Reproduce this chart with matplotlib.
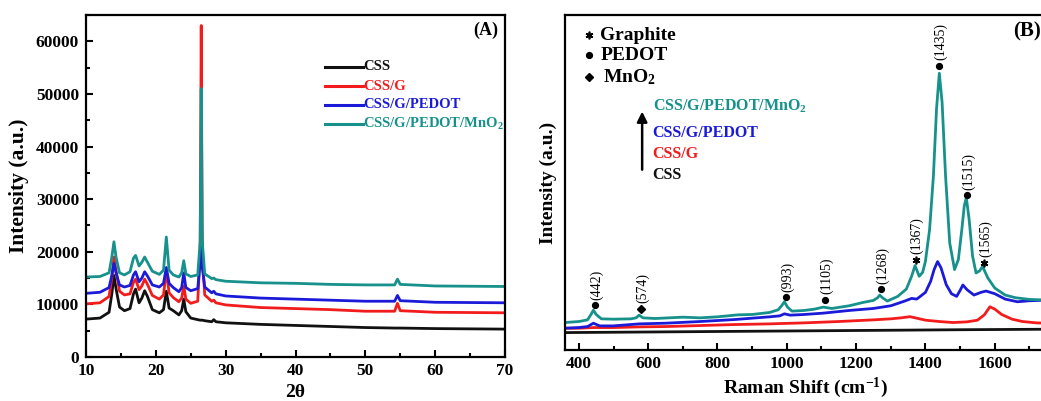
import numpy as np
import matplotlib
matplotlib.use("Agg")
import matplotlib.pyplot as plt
from matplotlib.ticker import MultipleLocator

plt.rcParams['font.family'] = ['Liberation Serif', 'DejaVu Serif']
plt.rcParams['font.weight'] = 'bold'
plt.rcParams['mathtext.fontset'] = 'custom'
plt.rcParams['mathtext.default'] = 'bf'
plt.rcParams['mathtext.bf'] = 'Liberation Serif:bold'
plt.rcParams['mathtext.rm'] = 'Liberation Serif:bold'

# ---------------- data: XRD (panel A) ----------------
xrd_2theta = [10, 12, 13.3, 13.7, 14.0, 14.3, 14.8, 15.5, 16.3, 16.8, 17.1, 17.6, 18.0, 18.4,
              18.8, 19.5, 20.5, 21.1, 21.5, 21.9, 22.5, 23.3, 23.7, 24.0, 24.3, 25.0, 26.0,
              26.35, 26.5, 26.65, 27.0, 28.0, 28.3, 28.6, 30, 35, 40, 45, 50, 54.2, 54.6, 55.0,
              60, 70]
xrd_css = [7200, 7400, 8500, 12000, 15500, 13000, 9500, 8800, 9200, 12000, 12900, 10300, 11200,
           12600, 11500, 9000, 8400, 9000, 12500, 9300, 8800, 8000, 8800, 11000, 8600, 7400, 7100,
           7000, 7000, 7000, 6900, 6700, 7100, 6700, 6500, 6200, 6000, 5800, 5600, 5500, 5500,
           5500, 5400, 5300]
xrd_css_g = [10100, 10300, 11500, 15000, 19000, 16500, 12500, 11800, 12000, 14200, 14800, 12800,
             13500, 14800, 13800, 11700, 11000, 11800, 16500, 12200, 11300, 10500, 11200, 13500,
             11000, 10200, 10600, 20000, 63000, 20000, 11800, 10600, 10800, 10300, 9900, 9400,
             9200, 9000, 8700, 8700, 10200, 8800, 8500, 8400]
xrd_css_g_pedot = [12100, 12300, 13200, 15500, 17800, 16000, 13700, 13300, 13600, 15600, 16200,
                   14300, 15000, 16200, 15400, 13700, 13300, 14000, 17000, 14000, 13200, 12400,
                   13200, 16000, 13200, 12600, 13000, 18000, 30000, 17000, 13300, 12200, 12500,
                   12000, 11600, 11200, 11000, 10800, 10600, 10600, 11700, 10700, 10400, 10300]
xrd_css_g_pedot_mno2 = [15200, 15300, 16000, 19000, 21900, 19000, 16000, 15600, 16200, 18800,
                        19300, 17300, 18000, 19000, 18000, 16300, 15700, 16500, 22800, 16500,
                        15600, 15200, 16000, 18300, 15800, 15300, 15600, 22000, 51000, 22000,
                        15800, 14900, 15000, 14700, 14400, 14100, 14000, 13800, 13700, 13700,
                        14800, 13800, 13500, 13400]

# ---------------- data: Raman (panel B) ----------------
raman_x_css = [360, 500, 700, 900, 1100, 1300, 1500, 1750]
raman_css = [5.2, 5.3, 5.45, 5.6, 5.75, 5.9, 6.05, 6.2]

raman_x_css_g = [360, 400, 442, 500, 574, 650, 750, 850, 950, 1050, 1150, 1250, 1300, 1330,
                 1355, 1375, 1400, 1440, 1480, 1520, 1550, 1570, 1586, 1600, 1620, 1650, 1680,
                 1720, 1750]
raman_css_g = [6.5, 6.5, 6.7, 6.7, 6.9, 7.0, 7.3, 7.6, 7.8, 8.1, 8.5, 9.0, 9.3, 9.6, 9.95, 9.5,
               8.9, 8.5, 8.2, 8.4, 8.9, 10.5, 12.9, 12.2, 10.6, 9.2, 8.5, 8.1, 8.0]

raman_x_css_g_pedot = [360, 400, 425, 442, 460, 500, 574, 650, 750, 850, 950, 980, 993, 1010,
                       1050, 1105, 1180, 1250, 1300, 1340, 1360, 1375, 1400, 1415, 1425, 1435,
                       1445, 1460, 1475, 1490, 1500, 1508, 1520, 1540, 1560, 1575, 1600, 1630,
                       1665, 1700, 1750]
raman_css_g_pedot = [6.5, 6.7, 7.0, 8.0, 7.2, 7.2, 7.8, 8.0, 8.5, 9.1, 9.9, 10.2, 10.8, 10.4,
                     10.6, 11.0, 11.8, 12.4, 13.2, 14.6, 15.4, 15.2, 17.2, 20.5, 24.0, 26.4,
                     24.5, 19.5, 16.8, 16.0, 17.8, 19.4, 18.0, 16.4, 17.2, 17.6, 16.8, 15.2,
                     14.4, 14.7, 14.9]

raman_x_css_g_pedot_mno2 = [360, 400, 425, 435, 442, 450, 465, 500, 550, 565, 574, 585, 620,
                            700, 750, 800, 860, 900, 950, 975, 985, 993, 1002, 1015, 1050, 1080,
                            1105, 1130, 1180, 1220, 1250, 1262, 1268, 1276, 1290, 1320, 1345,
                            1360, 1370, 1382, 1392, 1400, 1412, 1423, 1432, 1440, 1448, 1458,
                            1470, 1484, 1495, 1505, 1512, 1518, 1526, 1536, 1546, 1556, 1565,
                            1580, 1600, 1630, 1660, 1700, 1750]
raman_css_g_pedot_mno2 = [8.2, 8.5, 9.0, 10.6, 11.9, 10.6, 9.3, 9.2, 9.3, 9.6, 10.4, 9.6, 9.4,
                          9.8, 9.6, 9.9, 10.5, 10.6, 11.2, 12.0, 13.2, 14.4, 12.8, 11.6, 11.8,
                          12.2, 12.8, 12.4, 13.2, 14.2, 14.8, 15.6, 16.4, 15.6, 14.6, 16.0, 18.2,
                          22.0, 25.2, 22.0, 23.2, 26.5, 36.0, 52.0, 72.0, 82.6, 74.0, 52.0, 32.0,
                          24.0, 27.0, 36.0, 43.0, 45.5, 39.0, 28.0, 23.0, 23.6, 24.9, 21.5, 18.5,
                          16.4, 15.6, 15.1, 14.9]

peak_positions = [442, 574, 993, 1105, 1268, 1367, 1435, 1515, 1565]
peak_labels = ['(442)', '(574)', '(993)', '(1105)', '(1268)', '(1367)', '(1435)', '(1515)', '(1565)']
peak_kinds = ['PEDOT', 'MnO2', 'PEDOT', 'PEDOT', 'PEDOT', 'Graphite', 'PEDOT', 'PEDOT', 'Graphite']

series_names = ['CSS', 'CSS/G', 'CSS/G/PEDOT', 'CSS/G/PEDOT/MnO$_2$']
colors = ['#111111', '#f21c1c', '#1a1ad8', '#16918b']

# ---------------- figure ----------------
W, H = 1041, 401
fig = plt.figure(figsize=(W / 100, H / 100), dpi=100)

def box(l, t, r, b):
    return [l / W, 1 - b / H, (r - l) / W, (b - t) / H]

# ---- panel A ----
axA = fig.add_axes(box(86, 15, 505, 357))
xrd_series = [xrd_css, xrd_css_g, xrd_css_g_pedot, xrd_css_g_pedot_mno2]
for ys, c in zip(xrd_series, colors):
    axA.plot(xrd_2theta, ys, color=c, lw=2.0, solid_joinstyle='round')
axA.set_xlim(10, 70)
axA.set_ylim(0, 65000)
axA.xaxis.set_major_locator(MultipleLocator(10))
axA.xaxis.set_minor_locator(MultipleLocator(5))
axA.yaxis.set_major_locator(MultipleLocator(10000))
axA.yaxis.set_minor_locator(MultipleLocator(5000))
axA.tick_params(which='both', direction='in', top=False, right=False, width=1.5)
axA.tick_params(which='major', length=5, labelsize=12.5, pad=4)
axA.tick_params(axis='y', which='major', pad=5)
axA.tick_params(which='minor', length=3)
for s in axA.spines.values():
    s.set_linewidth(1.6)
axA.set_xlabel('2θ', fontsize=14, fontweight='bold', labelpad=4)
axA.set_ylabel('Intensity (a.u.)', fontsize=15.5, fontweight='bold', labelpad=5)
axA.text(0.985, 0.955, '(A)', transform=axA.transAxes, ha='right', va='center',
         fontsize=13, fontweight='bold')
leg_rows = [0.848, 0.792, 0.737, 0.681]
for name, c, yy in zip(series_names, colors, leg_rows):
    axA.plot([0.570, 0.661], [yy, yy], transform=axA.transAxes, color=c, lw=2.2)
    axA.text(0.662, yy, name, transform=axA.transAxes, ha='left', va='center',
             color=c, fontsize=10.5, fontweight='bold')

# ---- panel B ----
x_left_px = 565
x400 = 578.3
px_per_unit = 69.4 / 200
right_px = x400 + (1750 - 400) * px_per_unit
axB = fig.add_axes(box(x_left_px, 15, right_px, 350))
raman_series = [(raman_x_css, raman_css), (raman_x_css_g, raman_css_g),
                (raman_x_css_g_pedot, raman_css_g_pedot),
                (raman_x_css_g_pedot_mno2, raman_css_g_pedot_mno2)]
for (xs, ys), c in zip(raman_series, colors):
    axB.plot(xs, ys, color=c, lw=2.0, solid_joinstyle='round')
axB.set_xlim(360, 1750)
axB.set_ylim(0, 100)
axB.set_yticks([])
axB.xaxis.set_major_locator(MultipleLocator(200))
axB.xaxis.set_minor_locator(MultipleLocator(100))
axB.tick_params(which='both', direction='in', top=False, right=False, width=1.5)
axB.tick_params(which='major', length=5, labelsize=12.5, pad=4)
axB.tick_params(which='minor', length=3)
for s in axB.spines.values():
    s.set_linewidth(1.6)
axB.set_xlabel('Raman Shift (cm$^{-1}$)', fontsize=14, fontweight='bold', labelpad=3)
axB.set_ylabel('Intensity (a.u.)', fontsize=14, fontweight='bold', labelpad=6)

marker_style = {'PEDOT': dict(marker='o', ms=4.2),
                'MnO2': dict(marker='D', ms=4.2),
                'Graphite': dict(marker=(6, 2, 0), ms=5.5, mew=1.2)}
for pos, lab, kind in zip(peak_positions, peak_labels, peak_kinds):
    xm = pos + 5
    ym = np.interp(xm, raman_x_css_g_pedot_mno2, raman_css_g_pedot_mno2) + 2.3
    axB.plot([xm], [ym], color='black', linestyle='none', **marker_style[kind])
    axB.text(xm + 4, ym + 1.6, lab, rotation=90, ha='center', va='bottom',
             fontsize=10, fontweight='normal')

# legend of symbols
sym_rows = [('Graphite', 'Graphite', 94.0), ('PEDOT', 'PEDOT', 88.0), ('MnO2', 'MnO$_2$', 81.5)]
for kind, txt, yy in sym_rows:
    axB.plot([428], [yy], color='black', linestyle='none', **marker_style[kind])
    axB.text(462 if kind != 'MnO2' else 470, yy, txt, ha='left', va='center',
             fontsize=14, fontweight='bold')

axB.annotate('', xy=(582.6, 72.0), xytext=(582.6, 53.0),
             arrowprops=dict(arrowstyle='-|>', color='black', lw=1.8, mutation_scale=15))
label_rows = [52.2, 58.5, 64.8, 72.8]
for name, c, yy in zip(series_names, colors, label_rows):
    axB.text(613, yy, name, ha='left', va='center', color=c, fontsize=11.5, fontweight='bold')
axB.text(1653, 95.0, '(B)', ha='left', va='center', fontsize=15, fontweight='bold')

fig.savefig('out.png', dpi=100)
